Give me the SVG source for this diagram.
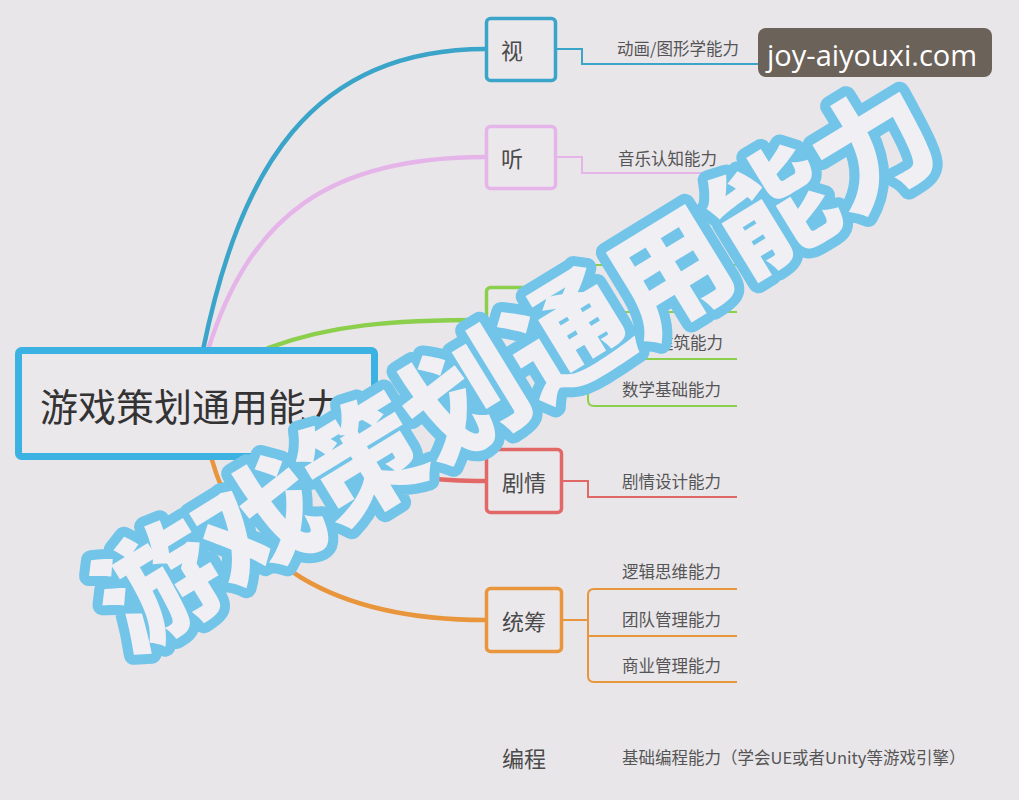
<svg xmlns="http://www.w3.org/2000/svg" width="1019" height="800" viewBox="0 0 1019 800">
<style>
.bg{fill:#e9e6ea}
.box{fill:#ebe8ec;stroke-width:3.5}
.lbl{font-family:"Noto Sans CJK SC","Noto Sans",sans-serif;font-size:22px;fill:#4a4a4a;text-anchor:middle;dominant-baseline:central}
.sub{font-family:"Noto Sans CJK SC","Noto Sans",sans-serif;font-size:16.5px;fill:#555}
.br{fill:none;stroke-width:4.5;stroke-linecap:round}
.ch{fill:none;stroke-width:2}
.wm{font-family:"Noto Sans CJK SC",sans-serif;font-weight:900;font-size:120px;letter-spacing:0px;fill:#f0eff4;stroke:#72c4e8;stroke-width:20;stroke-linejoin:round;paint-order:stroke;text-anchor:middle;dominant-baseline:central}
</style>
<rect class="bg" x="0" y="0" width="1019" height="800"/>
<g id="connectors">
<path class="br" stroke="#3ba4c9" d="M203,350 C240,170 310,49 486,49"/>
<path class="br" stroke="#e5b5e9" d="M208,350 C250,215 330,157 486,157"/>
<path class="br" stroke="#8ccf4d" d="M268,348 C330,325 390,320 486,320"/>
<path class="br" stroke="#e26868" d="M360,458 C400,478 440,481 486,481"/>
<path class="br" stroke="#e8953c" d="M212,460 C240,560 330,620 486,620"/>
<path class="ch" stroke="#3ba4c9" d="M556,49 H582 V64 H765"/>
<path class="ch" stroke="#e5b5e9" d="M556,157 H582 V173 H737"/>
<path class="ch" stroke="#8ccf4d" d="M561,320 H588 M737,265 H594 Q588,265 588,271 V400 Q588,406 594,406 H737 M588,312 H737 M588,359 H737"/>
<path class="ch" stroke="#e26868" d="M561,481 H588 V497 H737"/>
<path class="ch" stroke="#e8953c" d="M561,620 H588 M737,589 H594 Q588,589 588,595 V676 Q588,682 594,682 H737 M588,636 H737"/>
</g>
<g id="root">
<rect x="18.5" y="350.5" width="356" height="106" rx="3" fill="#ebe8ec" stroke="#3cb2e2" stroke-width="7"/>
<text x="40" y="421" font-family="Noto Sans CJK SC, Noto Sans, sans-serif" font-size="38" fill="#333">游戏策划通用能力</text>
</g>
<g id="node-shi">
<rect class="box" x="486.5" y="18.5" width="69" height="62" rx="4" stroke="#3ba4c9"/>
<text class="lbl" x="512" y="49">视</text>
<text class="sub" x="617" y="55">动画/图形学能力</text>
</g>
<g id="node-ting">
<rect class="box" x="486.5" y="126.5" width="69" height="62" rx="4" stroke="#e5b5e9"/>
<text class="lbl" x="512" y="157">听</text>
<text class="sub" x="618" y="165">音乐认知能力</text>
</g>
<g id="node-green">
<rect class="box" x="486.5" y="287.5" width="75" height="64" rx="4" stroke="#8ccf4d"/>
<text class="sub" x="723" y="349" text-anchor="end">建筑能力</text>
<text class="sub" x="622" y="396">数学基础能力</text>
</g>
<g id="node-juqing">
<rect class="box" x="486.5" y="449.5" width="75" height="63" rx="4" stroke="#e26868"/>
<text class="lbl" x="524" y="481">剧情</text>
<text class="sub" x="622" y="488">剧情设计能力</text>
</g>
<g id="node-tongchou">
<rect class="box" x="486.5" y="588.5" width="75" height="63" rx="4" stroke="#e8953c"/>
<text class="lbl" x="524" y="620">统筹</text>
<text class="sub" x="622" y="578">逻辑思维能力</text>
<text class="sub" x="622" y="626">团队管理能力</text>
<text class="sub" x="622" y="672">商业管理能力</text>
</g>
<g id="node-biancheng">
<text class="lbl" x="524" y="757">编程</text>
<text class="sub" x="622" y="764">基础编程能力（学会UE或者Unity等游戏引擎）</text>
</g>
<g id="watermark">
<text class="wm" transform="translate(512,360) rotate(-31.5)" x="0" y="0">游戏策划通用能力</text>
</g>
<g id="badge">
<rect x="758" y="28" width="234" height="49" rx="8" fill="#6b625a"/>
<text x="767" y="66" font-family="Open Sans, Noto Sans, sans-serif" font-size="29" fill="#ffffff">joy-aiyouxi.com</text>
</g>
</svg>
